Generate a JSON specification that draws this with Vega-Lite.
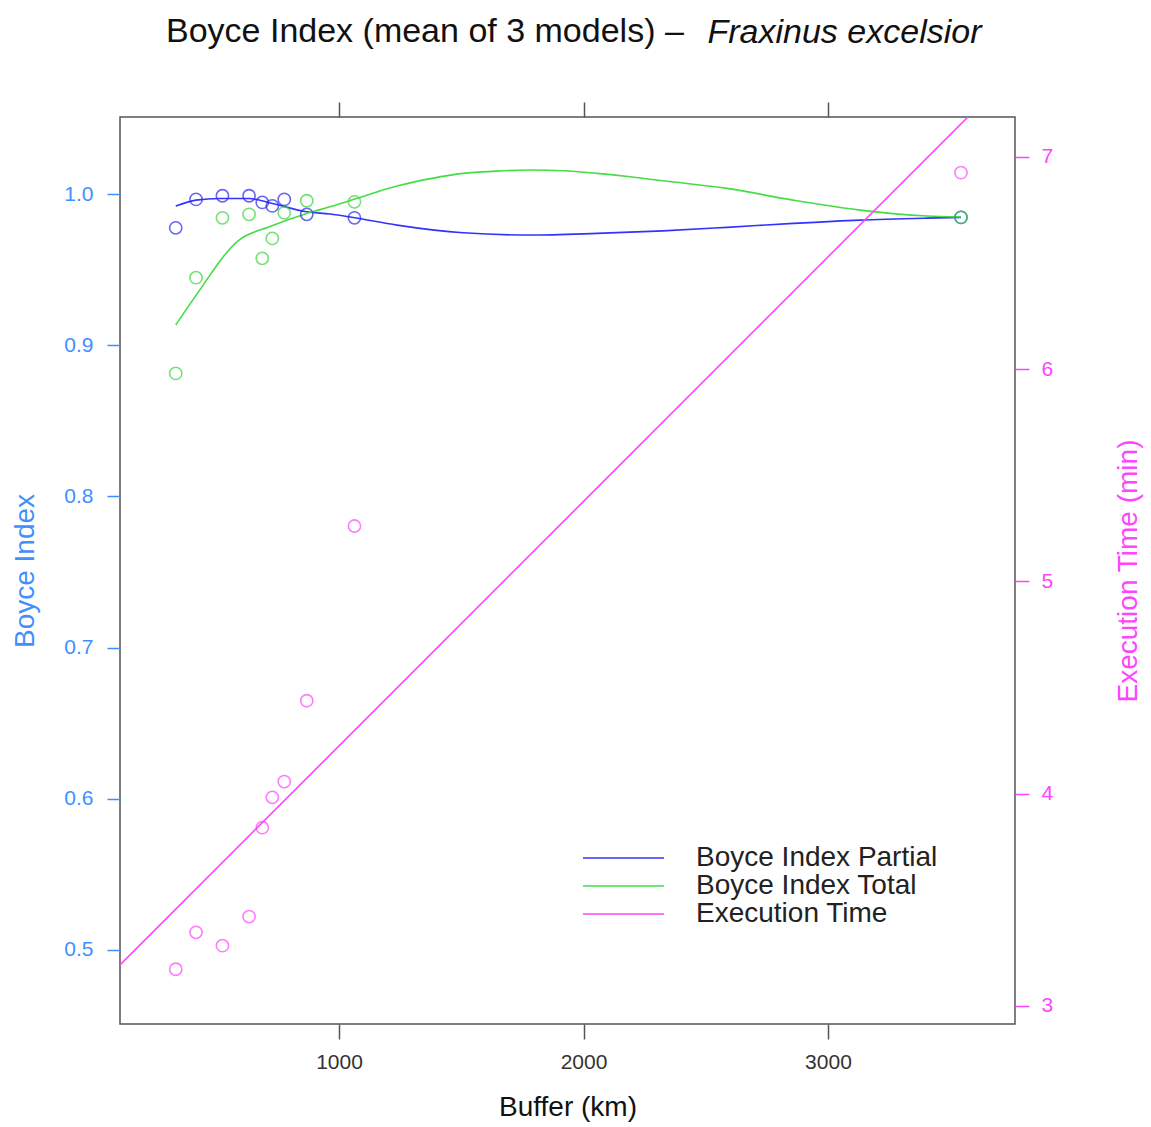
{
  "$schema": "https://vega.github.io/schema/vega-lite/v6.json",
  "width": 895,
  "height": 907,
  "autosize": {"type": "none"},
  "padding": {"left": 120, "top": 117, "right": 136, "bottom": 103},
  "background": "white",
  "config": {
    "font": "Liberation Sans",
    "view": {"stroke": "#555555", "strokeWidth": 1.5},
    "axis": {"grid": false, "domain": false, "labelFont": "Liberation Sans", "titleFont": "Liberation Sans", "titleFontWeight": "normal"}
  },
  "title": {
    "text": "Boyce Index (mean of 3 models) –",
    "anchor": "start",
    "frame": "group",
    "dx": 46,
    "baseline": "alphabetic",
    "offset": -61,
    "fontSize": 34,
    "fontWeight": "normal",
    "font": "Liberation Sans",
    "color": "#111111"
  },
  "datasets": {
    "curves": [
      {"buffer": 332, "series": "Boyce Index Partial", "value": 0.9921},
      {"buffer": 415, "series": "Boyce Index Partial", "value": 0.9960},
      {"buffer": 511, "series": "Boyce Index Partial", "value": 0.9971},
      {"buffer": 632, "series": "Boyce Index Partial", "value": 0.9971},
      {"buffer": 727, "series": "Boyce Index Partial", "value": 0.9938},
      {"buffer": 868, "series": "Boyce Index Partial", "value": 0.9883},
      {"buffer": 963, "series": "Boyce Index Partial", "value": 0.9868},
      {"buffer": 1063, "series": "Boyce Index Partial", "value": 0.9843},
      {"buffer": 1237, "series": "Boyce Index Partial", "value": 0.9795},
      {"buffer": 1507, "series": "Boyce Index Partial", "value": 0.9744},
      {"buffer": 1781, "series": "Boyce Index Partial", "value": 0.9729},
      {"buffer": 2055, "series": "Boyce Index Partial", "value": 0.9740},
      {"buffer": 2325, "series": "Boyce Index Partial", "value": 0.9757},
      {"buffer": 2587, "series": "Boyce Index Partial", "value": 0.9780},
      {"buffer": 2857, "series": "Boyce Index Partial", "value": 0.9806},
      {"buffer": 3131, "series": "Boyce Index Partial", "value": 0.9828},
      {"buffer": 3405, "series": "Boyce Index Partial", "value": 0.9841},
      {"buffer": 3544, "series": "Boyce Index Partial", "value": 0.9846},
      {"buffer": 332, "series": "Boyce Index Total", "value": 0.9134},
      {"buffer": 415, "series": "Boyce Index Total", "value": 0.9330},
      {"buffer": 591, "series": "Boyce Index Total", "value": 0.9696},
      {"buffer": 715, "series": "Boyce Index Total", "value": 0.9784},
      {"buffer": 868, "series": "Boyce Index Total", "value": 0.9872},
      {"buffer": 963, "series": "Boyce Index Total", "value": 0.9916},
      {"buffer": 1065, "series": "Boyce Index Total", "value": 0.9967},
      {"buffer": 1237, "series": "Boyce Index Total", "value": 1.0053},
      {"buffer": 1380, "series": "Boyce Index Total", "value": 1.0104},
      {"buffer": 1507, "series": "Boyce Index Total", "value": 1.0137},
      {"buffer": 1644, "series": "Boyce Index Total", "value": 1.0152},
      {"buffer": 1781, "series": "Boyce Index Total", "value": 1.0159},
      {"buffer": 1918, "series": "Boyce Index Total", "value": 1.0154},
      {"buffer": 2055, "series": "Boyce Index Total", "value": 1.0137},
      {"buffer": 2190, "series": "Boyce Index Total", "value": 1.0115},
      {"buffer": 2325, "series": "Boyce Index Total", "value": 1.0088},
      {"buffer": 2587, "series": "Boyce Index Total", "value": 1.0038},
      {"buffer": 2857, "series": "Boyce Index Total", "value": 0.9960},
      {"buffer": 3131, "series": "Boyce Index Total", "value": 0.9894},
      {"buffer": 3405, "series": "Boyce Index Total", "value": 0.9855},
      {"buffer": 3544, "series": "Boyce Index Total", "value": 0.9848}
    ],
    "obs": [
      {"buffer": 332, "series": "Boyce Index Partial", "value": 0.9777},
      {"buffer": 415, "series": "Boyce Index Partial", "value": 0.9965},
      {"buffer": 523, "series": "Boyce Index Partial", "value": 0.9989},
      {"buffer": 632, "series": "Boyce Index Partial", "value": 0.9989},
      {"buffer": 686, "series": "Boyce Index Partial", "value": 0.9945},
      {"buffer": 727, "series": "Boyce Index Partial", "value": 0.9922},
      {"buffer": 776, "series": "Boyce Index Partial", "value": 0.9965},
      {"buffer": 868, "series": "Boyce Index Partial", "value": 0.9866},
      {"buffer": 1063, "series": "Boyce Index Partial", "value": 0.9843},
      {"buffer": 3544, "series": "Boyce Index Partial", "value": 0.9846},
      {"buffer": 332, "series": "Boyce Index Total", "value": 0.8814},
      {"buffer": 415, "series": "Boyce Index Total", "value": 0.9447},
      {"buffer": 523, "series": "Boyce Index Total", "value": 0.9843},
      {"buffer": 632, "series": "Boyce Index Total", "value": 0.9866},
      {"buffer": 686, "series": "Boyce Index Total", "value": 0.9575},
      {"buffer": 727, "series": "Boyce Index Total", "value": 0.9707},
      {"buffer": 776, "series": "Boyce Index Total", "value": 0.9876},
      {"buffer": 868, "series": "Boyce Index Total", "value": 0.9956},
      {"buffer": 1063, "series": "Boyce Index Total", "value": 0.9949},
      {"buffer": 3544, "series": "Boyce Index Total", "value": 0.9846}
    ],
    "time": [
      {"buffer": 332, "minutes": 3.173},
      {"buffer": 415, "minutes": 3.347},
      {"buffer": 523, "minutes": 3.284},
      {"buffer": 632, "minutes": 3.421},
      {"buffer": 686, "minutes": 3.840},
      {"buffer": 727, "minutes": 3.983},
      {"buffer": 776, "minutes": 4.057},
      {"buffer": 868, "minutes": 4.438},
      {"buffer": 1063, "minutes": 5.261},
      {"buffer": 3544, "minutes": 6.926}
    ],
    "fit": [
      {"buffer": 104, "series": "Execution Time", "minutes": 3.193},
      {"buffer": 3600, "series": "Execution Time", "minutes": 7.220}
    ]
  },
  "layer": [
    {
      "layer": [
        {
          "data": {"name": "curves"},
          "mark": {"type": "line", "strokeWidth": 1.6, "interpolate": "monotone"},
          "encoding": {
            "x": {
              "field": "buffer", "type": "quantitative",
              "scale": {"domain": [104, 3765], "nice": false, "zero": false},
              "axis": {
                "orient": "bottom", "values": [1000, 2000, 3000], "format": "d",
                "tickSize": 15, "tickColor": "#555555", "tickWidth": 1.5,
                "labelFontSize": 21, "labelColor": "#333333", "labelPadding": 12,
                "title": "Buffer (km)", "titleFontSize": 28, "titleColor": "#111111", "titlePadding": 21
              }
            },
            "y": {
              "field": "value", "type": "quantitative",
              "scale": {"domain": [0.451, 1.051], "nice": false, "zero": false},
              "axis": {
                "orient": "left", "values": [0.5, 0.6, 0.7, 0.8, 0.9, 1.0], "format": ".1f",
                "tickSize": 13, "tickColor": "#3f8fff", "tickWidth": 1.5,
                "labelFontSize": 21, "labelColor": "#3f8fff", "labelPadding": 14,
                "title": "Boyce Index", "titleFontSize": 28, "titleColor": "#3f8fff", "titlePadding": 24
              }
            },
            "color": {
              "field": "series", "type": "nominal",
              "scale": {
                "domain": ["Boyce Index Partial", "Boyce Index Total", "Execution Time"],
                "range": ["#3333ff", "#44dd44", "#ff44ff"]
              },
              "legend": {
                "orient": "none", "legendX": 489.5, "legendY": 727, "title": null,
                "symbolType": "M-4,0H4", "symbolSize": 410, "symbolStrokeWidth": 1.6,
                "labelFontSize": 28, "labelFont": "Liberation Sans", "labelColor": "#222222",
                "labelOffset": 58.5, "labelLimit": 500, "rowPadding": 0, "padding": 0
              }
            }
          }
        },
        {
          "data": {"name": "obs"},
          "mark": {"type": "point", "filled": false, "size": 150, "strokeWidth": 1.6},
          "encoding": {
            "x": {"field": "buffer", "type": "quantitative"},
            "y": {"field": "value", "type": "quantitative"},
            "stroke": {
              "field": "series", "type": "nominal",
              "scale": {
                "domain": ["Boyce Index Partial", "Boyce Index Total"],
                "range": ["#2828ee", "#3ad63a"]
              },
              "legend": null
            }
          }
        }
      ]
    },
    {
      "layer": [
        {
          "data": {"name": "fit"},
          "mark": {"type": "line", "strokeWidth": 1.6, "clip": true},
          "encoding": {
            "x": {
              "field": "buffer", "type": "quantitative",
              "axis": {
                "orient": "top", "values": [1000, 2000, 3000], "labels": false,
                "tickSize": 15, "tickColor": "#555555", "tickWidth": 1.5,
                "title": "Fraxinus excelsior", "titleFontStyle": "italic", "titleFontSize": 34,
                "titleColor": "#111111", "titleX": 587, "titleY": -75, "titleAlign": "left",
                "titleAnchor": "start", "titleBaseline": "alphabetic"
              }
            },
            "y": {
              "field": "minutes", "type": "quantitative",
              "scale": {"domain": [2.915, 7.188], "nice": false, "zero": false},
              "axis": {
                "orient": "right", "values": [3, 4, 5, 6, 7], "format": "d",
                "tickSize": 14, "tickColor": "#ff44ff", "tickWidth": 1.5,
                "labelFontSize": 21, "labelColor": "#ff44ff", "labelPadding": 12,
                "title": "Execution Time (min)", "titleFontSize": 28, "titleColor": "#ff44ff",
                "titleAngle": 270, "titleBaseline": "top", "titlePadding": 62
              }
            },
            "color": {"field": "series", "type": "nominal"}
          }
        },
        {
          "data": {"name": "time"},
          "mark": {"type": "point", "filled": false, "size": 150, "strokeWidth": 1.6, "stroke": "#ff44ff"},
          "encoding": {
            "x": {"field": "buffer", "type": "quantitative"},
            "y": {"field": "minutes", "type": "quantitative"}
          }
        }
      ]
    }
  ],
  "resolve": {"scale": {"y": "independent"}, "axis": {"x": "independent", "y": "independent"}}
}
